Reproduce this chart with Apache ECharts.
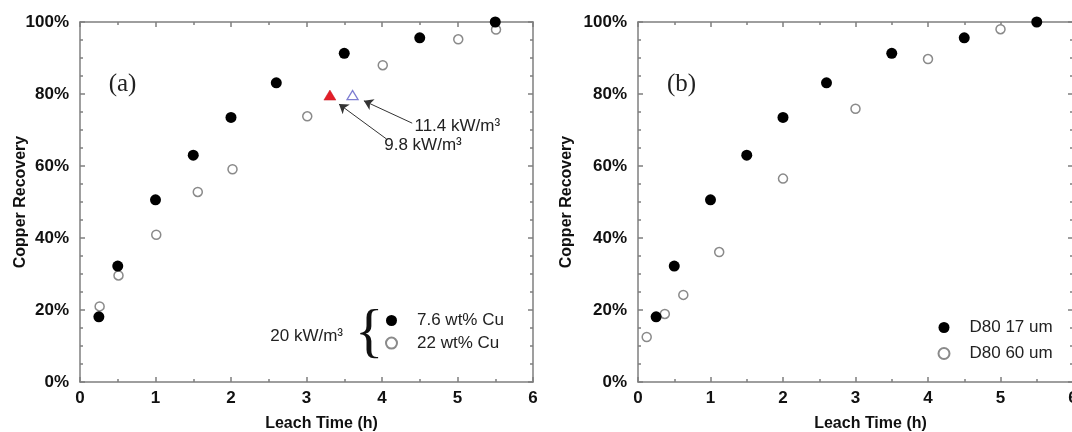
<!DOCTYPE html>
<html>
<head>
<meta charset="utf-8">
<script src="https://cdn.jsdelivr.net/npm/echarts@6/dist/echarts.min.js"></script>
<style>html,body{margin:0;padding:0;background:#fff;}#c{width:1072px;height:432px;}</style>
</head>
<body>
<div id="c"></div>
<script>
// ---- Data: panel (a) ----
const timeA76 = [0.25, 0.5, 1.0, 1.5, 2.0, 2.6, 3.5, 4.5, 5.5];
const recA76 = [0.181, 0.322, 0.506, 0.630, 0.735, 0.831, 0.913, 0.956, 1.0];
const timeA22 = [0.26, 0.51, 1.01, 1.56, 2.02, 3.01, 4.01, 5.01, 5.51];
const recA22 = [0.210, 0.296, 0.409, 0.528, 0.591, 0.738, 0.880, 0.952, 0.979];
const time98 = [3.31];
const rec98 = [0.797];
const time114 = [3.61];
const rec114 = [0.797];
// ---- Data: panel (b) ----
const timeB17 = [0.25, 0.5, 1.0, 1.5, 2.0, 2.6, 3.5, 4.5, 5.5];
const recB17 = [0.181, 0.322, 0.506, 0.630, 0.735, 0.831, 0.913, 0.956, 1.0];
const timeB60 = [0.12, 0.37, 0.625, 1.12, 2.0, 3.0, 4.0, 5.0];
const recB60 = [0.125, 0.189, 0.242, 0.361, 0.565, 0.759, 0.897, 0.980];
// ---- Axis ticks ----
const xTicks = [0, 1, 2, 3, 4, 5, 6];
const yTicks = [0, 0.2, 0.4, 0.6, 0.8, 1.0];
// ---- Annotations (data coordinates) ----
const annTextA = ['11.4 kW/m³', '9.8 kW/m³', '20 kW/m³'];
const annXA = [4.43, 4.03, 2.52];
const annYA = [0.71, 0.657, 0.128];
const arrowFrom = [[4.40, 0.719], [4.06, 0.675]];
const arrowTo = [[3.76, 0.781], [3.43, 0.772]];
const braceX = [3.83];
const braceY = [0.132];
const panelLabels = ['(a)', '(b)'];
const panelX = [0.38, 0.40];
const panelY = [0.827, 0.827];

const pairs = (xs, ys) => xs.map((x, i) => [x, ys[i]]);
const axisGrey = '#7f7f7f';
const lineSt = { color: axisGrey, width: 1.5 };
const fontFam = 'Arial, "Liberation Sans", sans-serif';
const serif = '"Liberation Serif", "DejaVu Serif", serif';

function xAx(g, top, nameGap) {
  return {
    type: 'value', gridIndex: g, position: top ? 'top' : 'bottom',
    min: xTicks[0], max: xTicks[xTicks.length - 1], interval: 1,
    axisLine: { show: true, onZero: false, lineStyle: lineSt },
    axisTick: { show: true, inside: true, length: 5, lineStyle: lineSt },
    minorTick: { show: true, splitNumber: 2, length: 3, lineStyle: lineSt },
    splitLine: { show: false },
    axisLabel: { show: !top, fontSize: 17, fontWeight: 'bold', color: '#111', margin: 8, fontFamily: fontFam },
    name: top ? '' : 'Leach Time (h)', nameLocation: 'middle', nameGap: nameGap, nameMoveOverlap: false,
    nameTextStyle: { fontSize: 16, fontWeight: 'bold', color: '#111', fontFamily: fontFam, padding: [0, 0, 0, 30] }
  };
}
function yAx(g, right, nameGap) {
  return {
    type: 'value', gridIndex: g, position: right ? 'right' : 'left',
    min: yTicks[0], max: yTicks[yTicks.length - 1], interval: 0.2,
    axisLine: { show: true, onZero: false, lineStyle: lineSt },
    axisTick: { show: true, inside: true, length: 5, lineStyle: lineSt },
    minorTick: { show: true, splitNumber: 4, length: 3, lineStyle: lineSt },
    splitLine: { show: false },
    axisLabel: { show: !right, fontSize: 17, fontWeight: 'bold', color: '#111', margin: 11, fontFamily: fontFam,
      formatter: v => Math.round(v * 100) + '%' },
    name: right ? '' : 'Copper Recovery', nameLocation: 'middle', nameGap: nameGap, nameMoveOverlap: false,
    nameTextStyle: { fontSize: 16, fontWeight: 'bold', color: '#111', fontFamily: fontFam }
  };
}

const filled = { color: '#000', borderColor: '#000', borderWidth: 0, opacity: 1 };
const open = { color: '#fff', borderColor: '#8a8a8a', borderWidth: 1.5, opacity: 1 };
const legendText = { fontSize: 17, color: '#222', fontFamily: fontFam, lineHeight: 18, padding: [0, 0, 0, 15] };

const option = {
  animation: false,
  backgroundColor: '#fff',
  grid: [
    { left: 80, top: 22, width: 453, height: 360, outerBoundsMode: 'none', containLabel: false },
    { left: 638, top: 22, width: 435, height: 360, outerBoundsMode: 'none', containLabel: false }
  ],
  xAxis: [xAx(0, false, 34), xAx(0, true), xAx(1, false, 34), xAx(1, true)],
  yAxis: [yAx(0, false, 51), yAx(0, true), yAx(1, false, 63), yAx(1, true)],
  legend: [
    { data: ['7.6 wt% Cu', '22 wt% Cu'], orient: 'vertical', left: 385, top: 311.5, padding: 0, itemWidth: 11, itemHeight: 11,
      itemGap: 4.6, icon: 'circle', textStyle: legendText },
    { data: ['D80 17 um', 'D80 60 um'], orient: 'vertical', left: 937.5, top: 318.5, padding: 0, itemWidth: 11, itemHeight: 11,
      itemGap: 8, icon: 'circle', textStyle: legendText }
  ],
  series: [
    { name: '7.6 wt% Cu', type: 'scatter', xAxisIndex: 0, yAxisIndex: 0, symbolSize: 11, itemStyle: filled, data: pairs(timeA76, recA76), z: 3 },
    { name: '22 wt% Cu', type: 'scatter', xAxisIndex: 0, yAxisIndex: 0, symbolSize: 9, itemStyle: open, data: pairs(timeA22, recA22), z: 2 },
    { name: '9.8 kW/m3', type: 'scatter', xAxisIndex: 0, yAxisIndex: 0, symbol: 'triangle', symbolSize: [12, 10],
      itemStyle: { color: '#e31e28', borderColor: '#c81a24', borderWidth: 0.5, opacity: 1 }, data: pairs(time98, rec98) },
    { name: '11.4 kW/m3', type: 'scatter', xAxisIndex: 0, yAxisIndex: 0, symbol: 'triangle', symbolSize: [11, 9],
      itemStyle: { color: '#fff', borderColor: '#7e7ed2', borderWidth: 1.3, opacity: 1 }, data: pairs(time114, rec114) },
    { name: 'arrows', type: 'lines', coordinateSystem: 'cartesian2d', xAxisIndex: 0, yAxisIndex: 0, silent: true,
      symbol: ['none', 'arrow'], symbolSize: 9,
      lineStyle: { color: '#333', width: 1, opacity: 1, curveness: 0 },
      data: arrowFrom.map((f, i) => ({ coords: [f, arrowTo[i]] })) },
    { name: 'annA', type: 'scatter', xAxisIndex: 0, yAxisIndex: 0, symbolSize: 0, silent: true,
      itemStyle: { opacity: 1 },
      data: annTextA.map((t, i) => ({ value: [annXA[i], annYA[i]], label: { formatter: t } })),
      label: { show: true, position: 'right', distance: 0, fontSize: 17, color: '#222', fontFamily: fontFam } },
    { name: 'brace', type: 'scatter', xAxisIndex: 0, yAxisIndex: 0, symbolSize: 0, silent: true,
      itemStyle: { opacity: 1 },
      data: pairs(braceX, braceY),
      label: { show: true, position: 'inside', formatter: () => '{', fontSize: 60, color: '#111', fontFamily: serif } },
    { name: 'panelA', type: 'scatter', xAxisIndex: 0, yAxisIndex: 0, symbolSize: 0, silent: true,
      itemStyle: { opacity: 1 },
      data: [[panelX[0], panelY[0]]],
      label: { show: true, position: 'right', distance: 0, formatter: panelLabels[0], fontSize: 25, color: '#222', fontFamily: serif } },
    { name: 'D80 17 um', type: 'scatter', xAxisIndex: 2, yAxisIndex: 2, symbolSize: 11, itemStyle: filled, data: pairs(timeB17, recB17), z: 3 },
    { name: 'D80 60 um', type: 'scatter', xAxisIndex: 2, yAxisIndex: 2, symbolSize: 9, itemStyle: open, data: pairs(timeB60, recB60), z: 2 },
    { name: 'panelB', type: 'scatter', xAxisIndex: 2, yAxisIndex: 2, symbolSize: 0, silent: true,
      itemStyle: { opacity: 1 },
      data: [[panelX[1], panelY[1]]],
      label: { show: true, position: 'right', distance: 0, formatter: panelLabels[1], fontSize: 25, color: '#222', fontFamily: serif } }
  ]
};
const chart = echarts.init(document.getElementById('c'), null, { renderer: 'canvas' });
chart.setOption(option);
</script>
</body>
</html>
